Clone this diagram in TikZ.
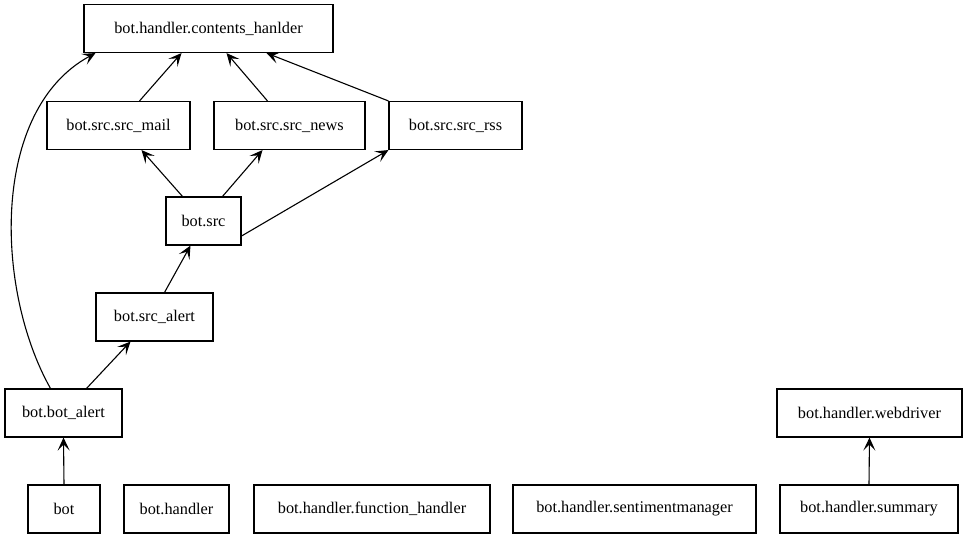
\documentclass[tikz,border=0pt]{standalone}
\usepackage{fontspec}
\setmainfont{Liberation Serif}
\usetikzlibrary{arrows.meta}

\begin{document}
\begin{tikzpicture}[x=1pt, y=-1pt, line width=1.1pt,
    import/.style={-{Stealth[length=13pt, width=12pt, inset=6pt]}}]
    \tikzstyle{module} = [draw, text centered, minimum height=48pt, inner sep=0pt, font=\fontsize{16.3}{19}\selectfont]
    \useasboundingbox (0,0) rectangle (967,539);
    % upper group
    \node [module, minimum width=249pt] at (208.5,28.5) (contents) {bot.handler.contents\_hanlder};
    \node [module, minimum width=143pt] at (118.5,125.5) (mail) {bot.src.src\_mail};
    \node [module, minimum width=151pt] at (289.5,125.5) (news) {bot.src.src\_news};
    \node [module, minimum width=133pt] at (455.5,125.5) (rss) {bot.src.src\_rss};
    \node [module, minimum width=75pt] at (203.5,221) (src) {bot.src};
    \node [module, minimum width=117pt] at (154.5,317) (srcalert) {bot.src\_alert};
    \node [module, minimum width=117pt] at (63.5,413) (botalert) {bot.bot\_alert};
    % bottom row
    \node [module, minimum width=72pt] at (64,509) (bot) {bot};
    \node [module, minimum width=105pt] at (176.5,509) (handler) {bot.handler};
    \node [module, minimum width=236pt] at (372,509) (function) {bot.handler.function\_handler};
    \node [module, minimum width=243pt] at (634.5,509) (sentiment) {bot.handler.sentimentmanager};
    \node [module, minimum width=178pt] at (869,509) (summary) {bot.handler.summary};
    \node [module, minimum width=185pt] at (869.5,413) (webdriver) {bot.handler.webdriver};
    % imports
    \draw[import] (bot.north) to (botalert.south);
    \draw[import] (summary.north) to (webdriver.south);
    \draw[import] ([xshift=23pt]botalert.north) to ([xshift=-24pt]srcalert.south);
    \draw[import] ([xshift=10pt]srcalert.north) to ([xshift=-13pt]src.south);
    \draw[import] ([xshift=-21pt]src.north) to ([xshift=23pt]mail.south);
    \draw[import] ([xshift=19pt]src.north) to ([xshift=-27pt]news.south);
    \draw[import] ([yshift=-15pt]src.east) to (rss.south west);
    \draw[import] ([xshift=21pt]mail.north) to ([xshift=-27pt]contents.south);
    \draw[import] ([xshift=-22pt]news.north) to ([xshift=18pt]contents.south);
    \draw[import] (rss.north west) to ([xshift=58pt]contents.south);
    \draw[import] ([xshift=-13pt]botalert.north) .. controls (-5,290) and (-10,110) .. ([xshift=-113pt]contents.south);
\end{tikzpicture}
\end{document}
